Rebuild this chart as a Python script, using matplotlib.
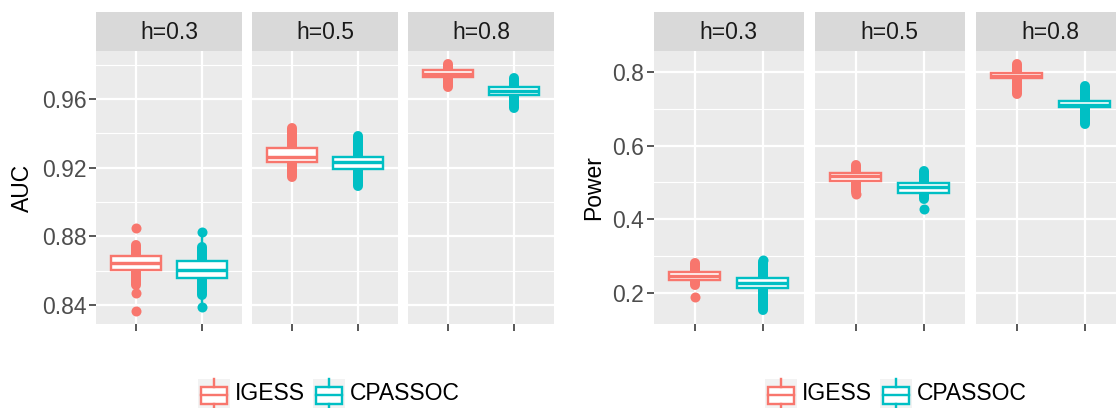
import matplotlib
matplotlib.use("Agg")
import matplotlib.pyplot as plt
from matplotlib.patches import Rectangle
from matplotlib.lines import Line2D

plt.rcParams['font.family'] = ['Liberation Sans', 'DejaVu Sans']

# ---------------- data ----------------
methods = ["IGESS", "CPASSOC"]
colors = ["#F8766D", "#00BFC4"]
facets = ["h=0.3", "h=0.5", "h=0.8"]

# AUC (rows: facets, cols: IGESS, CPASSOC)
auc_q1 = [[0.8604, 0.8556], [0.9236, 0.9190], [0.9726, 0.9623]]
auc_med = [[0.8643, 0.8603], [0.9262, 0.9231], [0.9746, 0.9647]]
auc_q3 = [[0.8685, 0.8656], [0.9315, 0.9263], [0.9767, 0.9670]]
auc_wlo = [[0.8472, 0.8388], [0.9146, 0.9095], [0.9670, 0.9545]]
auc_whi = [[0.8752, 0.8825], [0.9431, 0.9384], [0.9804, 0.9722]]
auc_cloud_lo = [[0.8515, 0.8458], [0.9146, 0.9095], [0.9670, 0.9545]]
auc_cloud_hi = [[0.8752, 0.8738], [0.9431, 0.9384], [0.9804, 0.9722]]
auc_points = [[[0.8472, 0.8365, 0.8849], [0.8388, 0.8825]],
              [[], []],
              [[], []]]
auc_ticks = [0.84, 0.88, 0.92, 0.96]
auc_tick_labels = ["0.84", "0.88", "0.92", "0.96"]
auc_minor = [0.82, 0.86, 0.90, 0.94, 0.98]

# Power
pow_q1 = [[0.2361, 0.2127], [0.5032, 0.4715], [0.7829, 0.7042]]
pow_med = [[0.2460, 0.2260], [0.5170, 0.4870], [0.7900, 0.7100]]
pow_q3 = [[0.2570, 0.2398], [0.5249, 0.4994], [0.7973, 0.7213]]
pow_wlo = [[0.2217, 0.1538], [0.4745, 0.4560], [0.7403, 0.6588]]
pow_whi = [[0.2814, 0.2896], [0.5475, 0.5312], [0.8217, 0.7620]]
pow_cloud_lo = [[0.2217, 0.1538], [0.4745, 0.4560], [0.7403, 0.6588]]
pow_cloud_hi = [[0.2814, 0.2830], [0.5475, 0.5312], [0.8217, 0.7620]]
pow_points = [[[0.1900], [0.2896]],
              [[0.4690], [0.4280]],
              [[], []]]
pow_ticks = [0.2, 0.4, 0.6, 0.8]
pow_tick_labels = ["0.2", "0.4", "0.6", "0.8"]
pow_minor = [0.3, 0.5, 0.7]

# ---------------- layout ----------------
W, H = 1116, 408
fig = plt.figure(figsize=(W / 100, H / 100), dpi=100)

PX = 72 / 100  # points per pixel
panel_top, panel_bot = 51, 324
strip_top = 12

def fx(x):
    return x / W

def fy(y):
    return 1 - y / H

def draw_panel(x_starts, width, q1, med, q3, wlo, whi, clo, chi, pts,
               ticks, tick_labels, minor, ylim, ylabel, ylabel_x):
    for fi, xs in enumerate(x_starts):
        ax = fig.add_axes([fx(xs), fy(panel_bot), width / W,
                           (panel_bot - panel_top) / H])
        ax.set_facecolor("#EBEBEB")
        for s in ax.spines.values():
            s.set_visible(False)
        ax.set_xlim(0.4, 2.6)
        ax.set_ylim(*ylim)
        for m in minor:
            ax.axhline(m, color="white", lw=1.1 * PX, zorder=0.5)
        for t in ticks:
            ax.axhline(t, color="white", lw=2.2 * PX, zorder=0.6)
        for xv in (1, 2):
            ax.axvline(xv, color="white", lw=2.2 * PX, zorder=0.6)
        for mi in range(2):
            c = colors[mi]
            xpos = mi + 1
            hw = 0.375
            # thin whiskers
            ax.plot([xpos, xpos], [q3[fi][mi], whi[fi][mi]], color=c,
                    lw=2.4 * PX, zorder=2, solid_capstyle="butt")
            ax.plot([xpos, xpos], [wlo[fi][mi], q1[fi][mi]], color=c,
                    lw=2.4 * PX, zorder=2, solid_capstyle="butt")
            # dense column of overlapping points
            ax.plot([xpos, xpos], [clo[fi][mi], chi[fi][mi]], color=c,
                    lw=10 * PX, zorder=2.5, solid_capstyle="round")
            # isolated points
            if pts[fi][mi]:
                ax.plot([xpos] * len(pts[fi][mi]), pts[fi][mi], "o",
                        color=c, ms=10 * PX, mew=0, zorder=2.6)
            # box
            ax.add_patch(Rectangle((xpos - hw, q1[fi][mi]), 2 * hw,
                                   q3[fi][mi] - q1[fi][mi], facecolor="white",
                                   edgecolor=c, lw=2.4 * PX, zorder=3))
            ax.plot([xpos - hw, xpos + hw], [med[fi][mi], med[fi][mi]],
                    color=c, lw=3.4 * PX, zorder=3.5, solid_capstyle="butt")
        ax.set_xticks([1, 2])
        ax.set_xticklabels(["", ""])
        ax.tick_params(axis="x", length=5, width=1.6 * PX, color="#333333")
        if fi == 0:
            ax.set_yticks(ticks)
            ax.set_yticklabels(tick_labels)
            ax.tick_params(axis="y", length=5, width=1.6 * PX, color="#333333",
                           labelsize=16.5, labelcolor="#4D4D4D", pad=2)
        else:
            ax.set_yticks([])
        # strip
        sax = fig.add_axes([fx(xs), fy(panel_top), width / W,
                            (panel_top - strip_top) / H])
        sax.set_facecolor("#D9D9D9")
        for s in sax.spines.values():
            s.set_visible(False)
        sax.set_xticks([])
        sax.set_yticks([])
        sax.text(0.5, 0.48, facets[fi], ha="center", va="center",
                 fontsize=16.5, color="#1A1A1A", transform=sax.transAxes)
    fig.text(fx(ylabel_x), fy((panel_top + panel_bot) / 2), ylabel,
             rotation=90, ha="center", va="center", fontsize=16.5,
             color="black")

draw_panel([96, 252, 408], 146, auc_q1, auc_med, auc_q3, auc_wlo, auc_whi,
           auc_cloud_lo, auc_cloud_hi, auc_points, auc_ticks, auc_tick_labels,
           auc_minor, (0.8289, 0.9880), "AUC", 22)

draw_panel([654, 815, 976], 149.5, pow_q1, pow_med, pow_q3, pow_wlo, pow_whi,
           pow_cloud_lo, pow_cloud_hi, pow_points, pow_ticks, pow_tick_labels,
           pow_minor, (0.1158, 0.8570), "Power", 594)

# ---------------- legends ----------------
def draw_key(x0, c):
    fig.patches.append(Rectangle((fx(x0), fy(408)), 32 / W, 29 / H,
                                 transform=fig.transFigure,
                                 facecolor="#F2F2F2", edgecolor="none"))
    cx = x0 + 16
    fig.patches.append(Rectangle((fx(x0 + 3), fy(404)), 26 / W, 17.5 / H,
                                 transform=fig.transFigure,
                                 facecolor="white", edgecolor=c,
                                 lw=2.4 * PX))
    fig.lines.append(Line2D([fx(x0 + 3), fx(x0 + 29)], [fy(395), fy(395)],
                            transform=fig.transFigure, color=c, lw=2.4 * PX))
    fig.lines.append(Line2D([fx(cx), fx(cx)], [fy(379), fy(386.5)],
                            transform=fig.transFigure, color=c, lw=2.4 * PX))
    fig.lines.append(Line2D([fx(cx), fx(cx)], [fy(404), fy(408)],
                            transform=fig.transFigure, color=c, lw=2.4 * PX))

def draw_legend(x0):
    draw_key(x0, colors[0])
    fig.text(fx(x0 + 37), fy(394), methods[0], ha="left", va="center",
             fontsize=16.5, color="black")
    draw_key(x0 + 115, colors[1])
    fig.text(fx(x0 + 152), fy(394), methods[1], ha="left", va="center",
             fontsize=16.5, color="black")

draw_legend(198)
draw_legend(765)

fig.savefig("out.png", dpi=100)
